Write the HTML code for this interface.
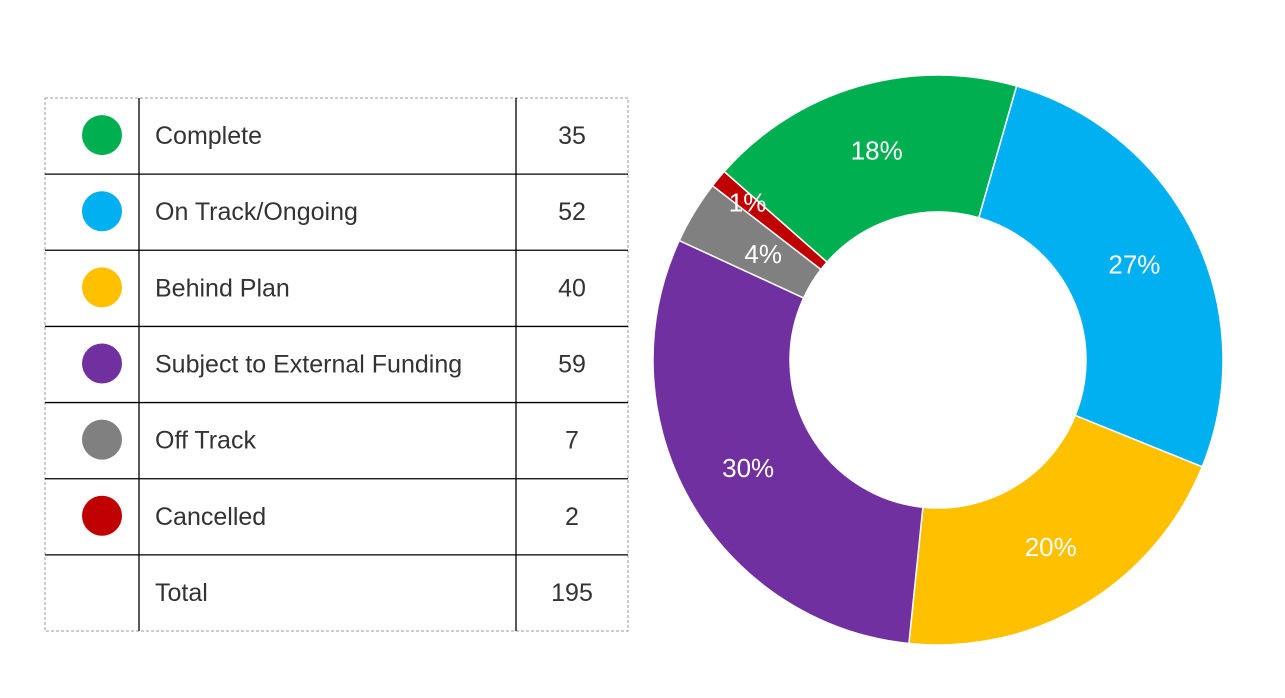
<!DOCTYPE html>
<html><head><meta charset="utf-8"><style>
body{margin:0;width:1285px;height:698px;background:#fff;overflow:hidden;font-family:"Liberation Sans",sans-serif}
svg{position:absolute;left:0;top:0}
</style></head><body>
<svg width="1285" height="698">
<g id="table"></g>
<g id="donut"></g>
</svg>
<script>
const categories=["Complete","On Track/Ongoing","Behind Plan","Subject to External Funding","Off Track","Cancelled"];
const counts=[35,52,40,59,7,2];
const colors=["#00b050","#00b0f0","#ffc000","#7030a0","#808080","#c00000"];
const totalLabel="Total";
const NS="http://www.w3.org/2000/svg";
function mk(t,a,p){const e=document.createElementNS(NS,t);for(const k in a)e.setAttribute(k,a[k]);p.appendChild(e);return e;}
const tb=document.getElementById('table');
const x0=45,x1=628,y0=98,y1=631,c1=139,c2=516,rows=categories.length+1,rh=(y1-y0)/rows;
const box=mk('rect',{x:x0,y:y0,width:x1-x0,height:y1-y0,fill:'none',stroke:'#999','stroke-dasharray':'3,2','stroke-width':1},tb);

for(let i=1;i<rows;i++){const l=mk('line',{x1:x0,x2:x1,y1:y0+i*rh,y2:y0+i*rh,stroke:'#000','stroke-width':1.3},tb);
}
[c1,c2].forEach(x=>{const l=mk('line',{x1:x,x2:x,y1:y0,y2:y1,stroke:'#000','stroke-width':1.3},tb);
});
const total=counts.reduce((a,b)=>a+b,0);
for(let i=0;i<rows;i++){
 const cy=y0+(i+0.5)*rh;
 const name=i<categories.length?categories[i]:totalLabel;
 const val=i<categories.length?counts[i]:total;
 if(i<categories.length){const c=mk('circle',{cx:102,cy:cy-1,r:20,fill:colors[i]},tb);
  }
 const t=mk('text',{x:155,y:cy+8,'font-size':25,fill:'#333'},tb);t.textContent=name;
 
 const v=mk('text',{x:572,y:cy+8,'font-size':25,fill:'#333','text-anchor':'middle'},tb);v.textContent=val;
 
}
const raw=counts.map(v=>v/total*100);
const pct=raw.map(Math.floor);
let rem=100-pct.reduce((a,b)=>a+b,0);
raw.map((v,i)=>[v-Math.floor(v),i]).sort((a,b)=>b[0]-a[0]).slice(0,rem).forEach(([_,i])=>pct[i]++);
const dn=document.getElementById('donut');
const cx=938,cy=360,R=285,r=148,start=-48.6;
function pt(a,rad){const t=(a-90)*Math.PI/180;return [cx+rad*Math.cos(t),cy+rad*Math.sin(t)];}
let a=start;
counts.forEach((v,i)=>{
 const sw=v/total*360,b=a+sw,lg=sw>180?1:0;
 const p1=pt(a,R),p2=pt(b,R),p3=pt(b,r),p4=pt(a,r);
 const p=mk('path',{d:`M${p1}L${p1}A${R},${R} 0 ${lg} 1 ${p2}L${p3}A${r},${r} 0 ${lg} 0 ${p4}Z`,fill:colors[i],stroke:'#fff','stroke-width':1.5},dn);
 
 const lr=sw<5?R-38:(sw<20?(R+r)/2-12:(R+r)/2+2);
 const m=pt(a+sw/2,lr);
 const t=mk('text',{x:m[0],y:m[1]+9,'font-size':26,fill:'#fff','text-anchor':'middle'},dn);
 t.textContent=pct[i]+'%';
 
 a=b;
});
</script>
</body></html>
